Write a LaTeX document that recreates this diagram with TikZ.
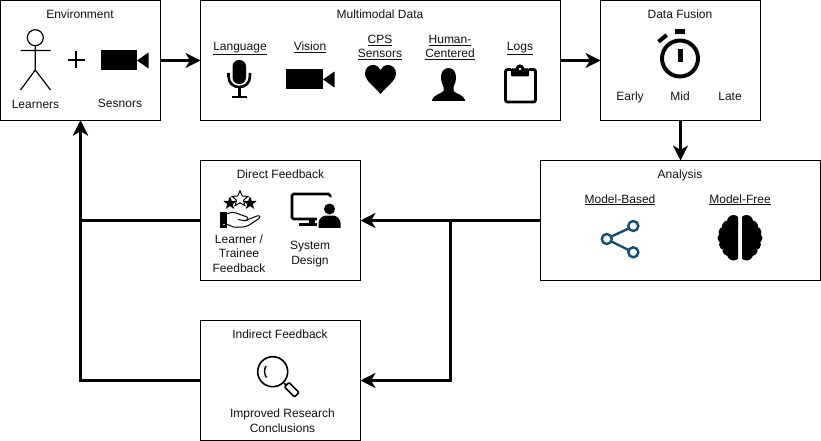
\documentclass[tikz,border=0pt]{standalone}
\usepackage{fontspec}
\setmainfont{Liberation Sans}
\usetikzlibrary{arrows.meta,shapes.geometric}
\definecolor{txt}{HTML}{111111}
\definecolor{share}{HTML}{134F74}
\tikzset{
  box/.style={draw=black,line width=1.2pt,fill=white,inner sep=0pt,outer sep=0pt},
  lab/.style={inner sep=0pt,outer sep=0pt,align=center,text=txt,font=\fontsize{12}{14.6}\selectfont},
  one/.style={lab,anchor=base},
  flow/.style={line width=3pt,-{Stealth[length=15pt,width=15pt,inset=4.5pt]}},
  figure line/.style={line width=1.2pt},
  starfill/.style={star,star points=5,star point ratio=2.4,inner sep=0pt,minimum size=14pt,fill=black},
  staropen/.style={star,star points=5,star point ratio=2.2,inner sep=0pt,minimum size=16.5pt,draw=black,line width=1pt}
}
\begin{document}
\begin{tikzpicture}[x=1pt,y=-1pt]
\useasboundingbox (0,0) rectangle (821,441);
% boxes
\node[box,minimum width=160pt,minimum height=120pt] (env) at (80.5,60.5) {};
\node[box,minimum width=360pt,minimum height=120pt] (multi) at (380.5,60.5) {};
\node[box,minimum width=160pt,minimum height=120pt] (fusion) at (680.5,60.5) {};
\node[box,minimum width=280pt,minimum height=120pt] (analysis) at (680.5,220.5) {};
\node[box,minimum width=160pt,minimum height=120pt] (direct) at (280.5,220.5) {};
\node[box,minimum width=160pt,minimum height=120pt] (indirect) at (280.5,380.5) {};
\coordinate (split) at (450.5,220.5);
% connectors
\draw[flow] (env.east) -- (multi.west);
\draw[flow] (multi.east) -- (fusion.west);
\draw[flow] (fusion.south) -- (analysis.north);
\draw[flow] (analysis.west) -- (direct.east);
\draw[flow] (split) |- (indirect.east);
\draw[flow] (direct.west) -| (env.south);
\draw[flow] (indirect.west) -| (env.south);
% labels
\node[one] (t1) at (80,18.7) {Environment};
\node[one] (t2) at (35.5,108.5) {Learners};
\node[one] (t3) at (120,107) {Sesnors};
\node[one] (t4) at (380,18.7) {Multimodal Data};
\node[one] (t5) at (240,50.7) {\underline{Language}};
\node[one] (t6) at (310,50.7) {\underline{Vision}};
\node[lab] (t7) at (380,47.5) {\underline{CPS}\\\underline{Sensors}};
\node[lab] (t8) at (450,47.5) {\underline{Human-}\\\underline{Centered}};
\node[one] (t9) at (520,50.7) {\underline{Logs}};
\node[one] (t10) at (680,18.7) {Data Fusion};
\node[one] (t11) at (630,100.7) {Early};
\node[one] (t12) at (680,100.7) {Mid};
\node[one] (t13) at (730,100.7) {Late};
\node[one] (t14) at (280.5,178) {Direct Feedback};
\node[lab] (t15) at (239,253.5) {Learner /\\Trainee\\Feedback};
\node[lab] (t16) at (310,254) {System\\Design};
\node[one] (t17) at (680,178) {Analysis};
\node[one] (t18) at (620,203) {\underline{Model-Based}};
\node[one] (t19) at (740,203) {\underline{Model-Free}};
\node[one] (t20) at (280,338) {Indirect Feedback};
\node[lab] (t21) at (282.5,420.5) {Improved Research\\Conclusions};
% stick figure
\draw[figure line] (35.3,37.7) circle (8);
\draw[figure line] (35.3,45.7) -- (35.3,70) (20.5,50.5) -- (50.5,50.5) (20.5,90) -- (35.3,70) -- (50.5,90);
% plus
\draw[line width=2pt] (67.5,60) -- (84.5,60) (76,51.5) -- (76,68.5);
% cameras
\fill (100.5,50.5) rectangle (137,70.5);
\fill (137,60.5) -- (148.5,52.5) -- (148.5,68.5) -- cycle;
\fill (286,69.5) rectangle (323,89.5);
\fill (323,79.5) -- (334.5,71.5) -- (334.5,87.5) -- cycle;
% microphone
\fill[rounded corners=6.5pt] (232.5,60) rectangle (246,84);
\draw[line width=2.6pt] (228.5,73) -- (228.5,76) .. controls (228.5,83) and (233,87) .. (239.2,87) .. controls (245.5,87) and (250,83) .. (250,76) -- (250,73);
\draw[line width=2.6pt] (239.2,87) -- (239.2,97);
\draw[line width=2.2pt] (232,97) -- (246.5,97);
% heart
\fill (380.5,94) .. controls (375,87) and (365,81) .. (365,73.5) .. controls (365,68) and (369,65) .. (373,65) .. controls (376.5,65) and (379,67) .. (380.5,70) .. controls (382,67) and (384.5,65) .. (388,65) .. controls (392,65) and (396,68) .. (396,73.5) .. controls (396,81) and (386,87) .. (380.5,94) -- cycle;
% person
\fill (448.5,68) .. controls (444,68) and (441,72) .. (441,77) .. controls (441,81) and (442,84) .. (443.5,87) -- (443.5,91) .. controls (441,94) and (433,95) .. (432,100) -- (432,101) -- (465,101) -- (465,100) .. controls (464,95) and (456,94) .. (453.5,91) -- (453.5,87) .. controls (455,84) and (456,81) .. (456,77) .. controls (456,72) and (453,68) .. (448.5,68) -- cycle;
% clipboard
\draw[line width=2.8pt,rounded corners=2pt] (511,69.5) -- (505.5,69.5) -- (505.5,102) -- (535.5,102) -- (535.5,69.5) -- (529,69.5);
\fill[rounded corners=1pt] (511,68.5) rectangle (529,76.5);
\fill (520,68.5) circle (4.2);
\fill[white] (520,69) circle (1.3);
% stopwatch
\draw[line width=4pt] (680,58.5) circle (18);
\fill (677.5,49) rectangle (682.7,61.7);
\fill (675,29) rectangle (685,33.7);
\draw[line width=4pt] (658.5,41.7) -- (666.7,35);
% direct feedback: stars and hand
\node[starfill] (s1) at (230,203.2) {};
\node[staropen] (s2) at (240,199) {};
\node[starfill] (s3) at (250,203.2) {};
\fill (220,211.7) rectangle (227.3,227.5);
\fill[white] (224,224.5) circle (0.8);
\draw[line width=1pt,line join=round] (227.3,214) .. controls (231,212) and (233,212) .. (236,213) -- (247,217) .. controls (249,218) and (248,220.7) .. (245,220.7) -- (238,219.5);
\draw[line width=1pt,line join=round] (245,220.7) -- (257,216) .. controls (260,215) and (261,217) .. (259,218.5) -- (248.5,225.5) .. controls (244,227.5) and (238,227.5) .. (233.5,227) -- (227.3,224.5);
% direct feedback: monitor and user
\draw[line width=2.8pt,rounded corners=1.5pt] (323,219) -- (292,219) -- (292,194) -- (330,194) -- (330,204);
\fill (309,219) rectangle (315,224);
\fill (299,223.3) rectangle (317,226);
\fill[white] (326.5,203) circle (7);
\fill[white] (316.5,213.5) rectangle (342,229);
\fill (329.5,209) circle (5.5);
\fill (318.5,227.8) -- (318.5,223) .. controls (319,218) and (323,215.5) .. (326,215.5) -- (333,215.5) .. controls (336,215.5) and (340,218) .. (340.5,223) -- (340.5,227.8) -- cycle;
% share icon
\draw[line width=2.4pt,share] (611.5,236.5) -- (628.5,228.5) (611.5,241.5) -- (628.5,250);
\draw[line width=2.4pt,share,fill=white] (606.8,239) circle (5);
\draw[line width=2.4pt,share,fill=white] (633.3,226) circle (5);
\draw[line width=2.4pt,share,fill=white] (633.3,252.3) circle (5);
% brain
\foreach \s in {-1,1}{
  \begin{scope}
    \clip ({740+\s*2},214) rectangle ({740+\s*25},262);
    \fill ({740+\s*6.5},221.5) circle (6.5);
    \fill ({740+\s*6.5},254) circle (6.5);
    \fill ({740+\s*12},226.5) circle (6);
    \fill ({740+\s*16},232) circle (5.5);
    \fill ({740+\s*17},238) circle (5.5);
    \fill ({740+\s*15.5},244.5) circle (5.5);
    \fill ({740+\s*11.5},250) circle (6);
    \fill (740,222) rectangle ({740+\s*14},252);
  \end{scope}
}
% magnifier
\draw[line width=1.6pt] (272.7,371.7) circle (15);
\draw[line width=1.4pt] (266,366) .. controls (264,369.5) and (264,374) .. (266.5,377.5);
\draw[line width=1.6pt] (284,383) -- (286.5,385.5);
\draw[line width=1.6pt,rounded corners=1pt] (284.5,387) -- (289,382.5) -- (299,392.5) -- (294.5,397) -- cycle;
\end{tikzpicture}
\end{document}
